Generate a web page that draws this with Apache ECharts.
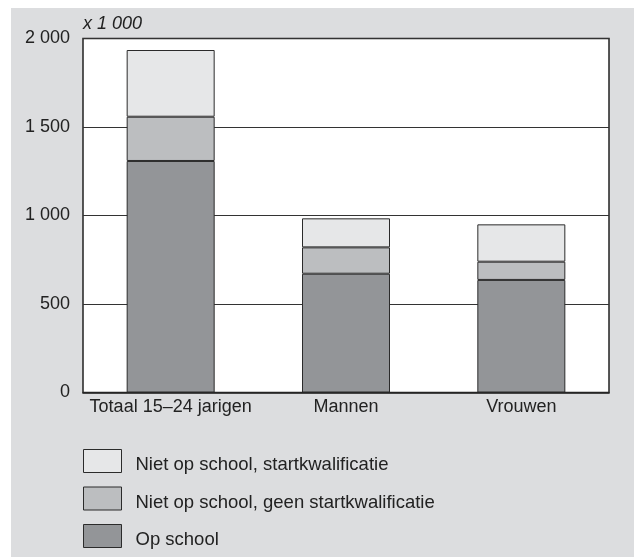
<!DOCTYPE html>
<html>
<head>
<meta charset="utf-8">
<script src="https://cdn.jsdelivr.net/npm/echarts@6/dist/echarts.min.js"></script>
<style>
html,body{margin:0;padding:0;background:#ffffff;}
#wrap{position:relative;width:634px;height:557px;overflow:hidden;}
#chart{position:absolute;left:11px;top:8px;width:623px;height:549px;}
</style>
</head>
<body>
<div id="wrap"><div id="chart"></div></div>
<script>
const categories = ['Totaal 15–24 jarigen', 'Mannen', 'Vrouwen'];
const opSchool = [1308, 671, 636];
const geenStart = [250, 149, 103];
const metStart = [377, 164, 211];
const seriesNames = ['Niet op school, startkwalificatie', 'Niet op school, geen startkwalificatie', 'Op school'];
const yTicks = [0, 500, 1000, 1500, 2000];

const chart = echarts.init(document.getElementById('chart'), null, {renderer: 'canvas'});
const font = 'Liberation Sans, Arial, Helvetica, sans-serif';
const border = '#2b2b2b';
const fs = 18;
function fmt(v){ return String(v).replace(/\B(?=(\d{3})+(?!\d))/g, ' '); }

chart.setOption({
  backgroundColor: '#dcdddf',
  animation: false,
  textStyle: {fontFamily: font},
  grid: {left: 72, top: 30.5, right: 25, bottom: 164.5, show: true, backgroundColor: '#ffffff', borderColor: '#222222', borderWidth: 1.5, containLabel: false},
  legend: {
    orient: 'vertical', left: 72, top: 441, padding: 0, height: 115, itemWidth: 38, itemHeight: 23, itemGap: 12,
    icon: 'rect',
    data: seriesNames,
    formatter: function (n) { return '{a|' + n + '}'; },
    textStyle: {fontSize: 18.5, color: '#222222', fontFamily: font,
      rich: {a: {fontSize: 18.5, color: '#222222', fontFamily: font, padding: [8, 0, 0, 9]}}},
    itemStyle: {borderColor: border, borderWidth: 1}
  },
  xAxis: {
    type: 'category', data: categories,
    axisTick: {show: false},
    axisLine: {show: true, lineStyle: {color: '#222222', width: 1.5}},
    axisLabel: {fontSize: fs, color: '#222222', margin: 6, interval: 0, fontFamily: font}
  },
  yAxis: {
    type: 'value', min: yTicks[0], max: yTicks[yTicks.length - 1], interval: 500,
    name: 'x 1 000', nameLocation: 'end', nameGap: 6,
    nameTextStyle: {fontStyle: 'italic', fontSize: fs, color: '#222222', align: 'left', fontFamily: font},
    axisLine: {show: false}, axisTick: {show: false},
    axisLabel: {fontSize: fs, color: '#222222', margin: 13, formatter: fmt, fontFamily: font},
    splitLine: {show: true, lineStyle: {color: '#333333', width: 1}}
  },
  series: [
    {name: seriesNames[2], type: 'bar', stack: 'a', data: opSchool, barWidth: 88,
     itemStyle: {color: '#939598', borderColor: border, borderWidth: 1}},
    {name: seriesNames[1], type: 'bar', stack: 'a', data: geenStart, barWidth: 88,
     itemStyle: {color: '#bcbec0', borderColor: border, borderWidth: 1}},
    {name: seriesNames[0], type: 'bar', stack: 'a', data: metStart, barWidth: 88,
     itemStyle: {color: '#e6e7e8', borderColor: border, borderWidth: 1}}
  ]
});
</script>
</body>
</html>
